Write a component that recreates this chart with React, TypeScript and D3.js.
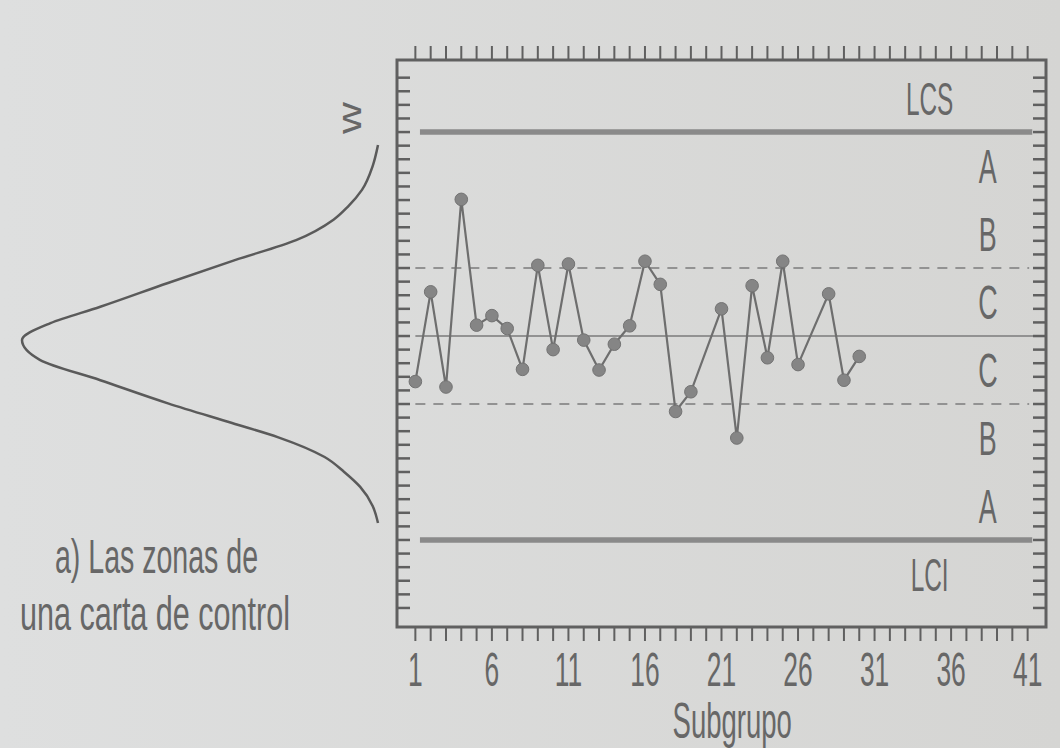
import React from 'react';
import * as d3 from 'd3';

// subgroup means, in sigma units from the centre line (null = no point drawn)
const subgroups = d3.range(1, 31);
const values: (number | null)[] = [
  -0.67, 0.65, -0.75, 2.01, 0.16, 0.30, 0.11, -0.49, 1.04, -0.20,
  1.06, -0.06, -0.50, -0.12, 0.15, 1.10, 0.76, -1.11, -0.82, null,
  0.40, -1.50, 0.74, -0.32, 1.10, -0.42, null, 0.62, -0.65, -0.30,
];

const xTickLabels = [1, 6, 11, 16, 21, 26, 31, 36, 41];
const zoneLabels = ['A', 'B', 'C', 'C', 'B', 'A'];
const zoneCentres = [2.5, 1.5, 0.5, -0.5, -1.5, -2.5];
const limitLabels = ['LCS', 'LCI'];
const limitValues = [3, -3];
const zoneLines = [1, 0, -1]; // 1 sigma lines are dashed, 0 is solid

// normal curve drawn on the left (sigma, relative height)
const curveSigma = [2.81, 2.5, 2.15, 1.9, 1.71, 1.41, 1.12, 0.78, 0.43, 0.19, -0.06, -0.35, -0.65, -0.99, -1.28, -1.49, -1.78, -2.0, -2.22, -2.5, -2.75];
const curveHeight = [0.0, 0.015, 0.045, 0.085, 0.125, 0.23, 0.40, 0.59, 0.78, 0.92, 1.0, 0.95, 0.78, 0.59, 0.41, 0.28, 0.15, 0.095, 0.05, 0.015, 0.0];

const W = 1060;
const H = 748;
const ink = '#606060';
const textInk = '#676767';
const font = '"Liberation Sans", Arial, sans-serif';

export default function App() {
  const x = d3.scaleLinear().domain([-0.2, 42.2]).range([397, 1046]);
  const y = d3.scaleLinear().domain([-4.28, 4.06]).range([627, 60]);
  const curveX = d3.scaleLinear().domain([0, 1]).range([378, 22]);

  const [x0, x1] = x.range();
  const [yBottom, yTop] = y.range();

  const points = subgroups
    .map((s, i) => ({ s, v: values[i] }))
    .filter(d => d.v !== null) as { s: number; v: number }[];

  const line = d3.line<{ s: number; v: number }>()
    .x(d => x(d.s))
    .y(d => y(d.v));

  const curve = d3.line<number>()
    .x((_, i) => curveX(curveHeight[i]))
    .y(d => y(d))
    .curve(d3.curveMonotoneY);

  const unitTicks = d3.range(1, 42);
  const sideTicks = d3.range(-20, 20).map(k => k / 5);

  return (
    <svg width={W} height={H} style={{ position: 'absolute', left: 0, top: 0 }}>
      <defs>
        <linearGradient id="paper" x1="0" x2="1" y1="0" y2="0">
          <stop offset="0" stopColor="#dedfdf" />
          <stop offset="1" stopColor="#d5d5d3" />
        </linearGradient>
      </defs>
      <rect width={W} height={H} fill="url(#paper)" />

      {/* zone lines */}
      {limitValues.map(v => (
        <line key={'l' + v} x1={x(1.3)} x2={x(41.3)} y1={y(v)} y2={y(v)}
          stroke="#8a8a8a" strokeWidth={5.5} />
      ))}
      {zoneLines.map(v => (
        <line key={'z' + v} x1={x(1)} x2={x(v === 0 ? 41.9 : 41.1)} y1={y(v)} y2={y(v)}
          stroke="#929292" strokeWidth={2}
          strokeDasharray={v === 0 ? undefined : '10 8'} />
      ))}

      {/* frame and ticks */}
      <rect x={x0} y={yTop} width={x1 - x0} height={yBottom - yTop}
        fill="none" stroke={ink} strokeWidth={3} />
      {unitTicks.map(t => (
        <g key={'t' + t} stroke={ink} strokeWidth={2}>
          <line x1={x(t)} x2={x(t)} y1={yTop} y2={yTop - 14} />
          <line x1={x(t)} x2={x(t)} y1={yBottom} y2={yBottom + 14} />
        </g>
      ))}
      {sideTicks.map(t => (
        <g key={'s' + t} stroke={ink} strokeWidth={2.5}>
          <line x1={x0} x2={x0 + 13} y1={y(t)} y2={y(t)} />
          <line x1={x1} x2={x1 - 13} y1={y(t)} y2={y(t)} />
        </g>
      ))}

      {/* data */}
      <path d={line(points) ?? ''} fill="none" stroke="#6e6e6e" strokeWidth={2.2} />
      {points.map(d => (
        <circle key={d.s} cx={x(d.s)} cy={y(d.v)} r={6.3} fill="#858585" stroke="#737373" strokeWidth={1} />
      ))}

      {/* labels */}
      <g fill={textInk} fontFamily={font}>
        {zoneLabels.map((l, i) => (
          <text key={'zl' + i} transform={`translate(${x(38.4)},${y(zoneCentres[i])}) scale(0.56,1)`}
            textAnchor="middle" dy="0.36em" fontSize={48}>{l}</text>
        ))}
        {limitLabels.map((l, i) => (
          <text key={l} transform={`translate(${x(34.6)},${y(limitValues[i] + (limitValues[i] > 0 ? 0.5 : -0.5))}) scale(0.53,1)`}
            textAnchor="middle" dy="0.36em" fontSize={46}>{l}</text>
        ))}
        {xTickLabels.map(t => (
          <text key={'xl' + t} transform={`translate(${x(t)},${yBottom + 59}) scale(0.55,1)`}
            textAnchor="middle" fontSize={48}>{t}</text>
        ))}
        <text transform={`translate(${x(21.7)},${yBottom + 111}) scale(0.55,1)`}
          textAnchor="middle" fontSize={50}>Subgrupo</text>
        <text x={55} y={573} fontSize={48} textLength={203} lengthAdjust="spacingAndGlyphs">a) Las zonas de</text>
        <text x={20} y={630} fontSize={48} textLength={270} lengthAdjust="spacingAndGlyphs">una carta de control</text>
        <text transform="translate(352,118) rotate(-90) scale(1.3,1)" textAnchor="middle" dy="0.25em" fontSize={34}>w</text>
      </g>

      {/* normal curve */}
      <path d={curve(curveSigma) ?? ''} fill="none" stroke="#5a5a5a" strokeWidth={2.5} />
    </svg>
  );
}
